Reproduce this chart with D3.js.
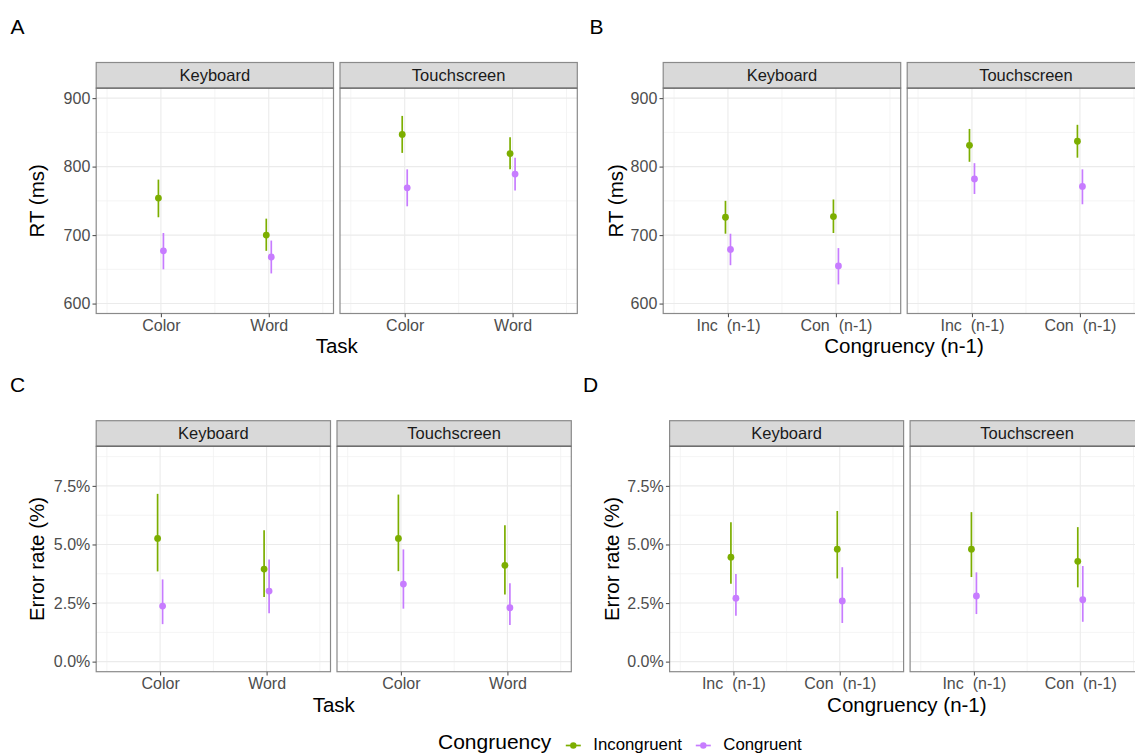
<!DOCTYPE html>
<html>
<head>
<meta charset="utf-8">
<script src="https://cdn.jsdelivr.net/npm/d3@7"></script>
<style>
  html, body { margin: 0; padding: 0; background: #fff; overflow: hidden; }
  svg { display: block; font-family: "Liberation Sans", Arial, Helvetica, sans-serif; }
</style>
</head>
<body>
<svg id="chart" width="1135" height="754"></svg>
<script>
// ---------------- DATA ----------------
const devices = ["Keyboard", "Touchscreen"];
const taskCats = ["Color", "Word"];
const seqCats = ["Inc  (n-1)", "Con  (n-1)"];
const congruency = ["Incongruent", "Congruent"];
const congColors = ["#7CAE00", "#C77CFF"];
const rtTicks = [600, 700, 800, 900];
const rtMinor = [650, 750, 850];
const errTicks = [0, 2.5, 5, 7.5];
const errMinor = [1.25, 3.75, 6.25, 8.75];

// [device, category, congruency, mean, lower, upper]
const rtTask = [
  ["Keyboard", "Color", "Incongruent", 754, 726, 781],
  ["Keyboard", "Color", "Congruent", 677, 650, 703],
  ["Keyboard", "Word", "Incongruent", 700, 677, 724],
  ["Keyboard", "Word", "Congruent", 668, 644, 692],
  ["Touchscreen", "Color", "Incongruent", 847, 820, 874],
  ["Touchscreen", "Color", "Congruent", 769, 742, 796],
  ["Touchscreen", "Word", "Incongruent", 819, 796, 843],
  ["Touchscreen", "Word", "Congruent", 789, 765, 813]
];
const rtSeq = [
  ["Keyboard", "Inc  (n-1)", "Incongruent", 726, 702, 750],
  ["Keyboard", "Inc  (n-1)", "Congruent", 679, 656, 702],
  ["Keyboard", "Con  (n-1)", "Incongruent", 727, 703, 752],
  ["Keyboard", "Con  (n-1)", "Congruent", 655, 628, 681],
  ["Touchscreen", "Inc  (n-1)", "Incongruent", 831, 807, 855],
  ["Touchscreen", "Inc  (n-1)", "Congruent", 782, 760, 805],
  ["Touchscreen", "Con  (n-1)", "Incongruent", 837, 813, 861],
  ["Touchscreen", "Con  (n-1)", "Congruent", 771, 745, 796]
];
const errTask = [
  ["Keyboard", "Color", "Incongruent", 5.26, 3.85, 7.16],
  ["Keyboard", "Color", "Congruent", 2.37, 1.60, 3.51],
  ["Keyboard", "Word", "Incongruent", 3.95, 2.76, 5.61],
  ["Keyboard", "Word", "Congruent", 3.01, 2.06, 4.36],
  ["Touchscreen", "Color", "Incongruent", 5.26, 3.86, 7.13],
  ["Touchscreen", "Color", "Congruent", 3.31, 2.26, 4.79],
  ["Touchscreen", "Word", "Incongruent", 4.11, 2.87, 5.82],
  ["Touchscreen", "Word", "Congruent", 2.30, 1.56, 3.34]
];
const errSeq = [
  ["Keyboard", "Inc  (n-1)", "Incongruent", 4.46, 3.32, 5.95],
  ["Keyboard", "Inc  (n-1)", "Congruent", 2.71, 1.96, 3.74],
  ["Keyboard", "Con  (n-1)", "Incongruent", 4.80, 3.55, 6.43],
  ["Keyboard", "Con  (n-1)", "Congruent", 2.59, 1.65, 4.03],
  ["Touchscreen", "Inc  (n-1)", "Incongruent", 4.80, 3.61, 6.38],
  ["Touchscreen", "Inc  (n-1)", "Congruent", 2.80, 2.03, 3.81],
  ["Touchscreen", "Con  (n-1)", "Incongruent", 4.28, 3.17, 5.74],
  ["Touchscreen", "Con  (n-1)", "Congruent", 2.64, 1.70, 4.08]
];

// ---------------- DRAW ----------------
const svg = d3.select("#chart");
const colorScale = d3.scaleOrdinal().domain(congruency).range(congColors);
const dodge = d3.scalePoint().domain(congruency).range([-2.5, 2.5]);

function drawSubplot(c) {
  const g = svg.append("g");
  g.append("text").attr("x", c.labelX).attr("y", c.labelY)
    .attr("font-size", 21).attr("fill", "#000").text(c.label);

  const y = d3.scaleLinear().domain(c.yDomain).range([c.bottom, c.top + c.stripH]);

  devices.forEach((dev, i) => {
    const px = c.x0 + i * (c.pw + c.gap);
    const x = d3.scalePoint().domain(c.cats).range([px, px + c.pw]).padding(0.6);
    const step = x.step();
    const pg = g.append("g");

    pg.append("rect").attr("x", px).attr("y", c.top + c.stripH)
      .attr("width", c.pw).attr("height", c.bottom - c.top - c.stripH).attr("fill", "#fff");

    // minor grid
    c.yMinor.forEach(v => {
      pg.append("line").attr("x1", px).attr("x2", px + c.pw)
        .attr("y1", y(v)).attr("y2", y(v))
        .attr("stroke", "#F1F1F1").attr("stroke-width", 0.8);
    });
    const xMinor = [x(c.cats[0]) - step / 2, (x(c.cats[0]) + x(c.cats[1])) / 2, x(c.cats[1]) + step / 2];
    xMinor.forEach(v => {
      pg.append("line").attr("x1", v).attr("x2", v)
        .attr("y1", c.top + c.stripH).attr("y2", c.bottom)
        .attr("stroke", "#F1F1F1").attr("stroke-width", 0.8);
    });
    // major grid
    c.yTicks.forEach(v => {
      pg.append("line").attr("x1", px).attr("x2", px + c.pw)
        .attr("y1", y(v)).attr("y2", y(v))
        .attr("stroke", "#EBEBEB").attr("stroke-width", 1.1);
    });
    c.cats.forEach(cat => {
      pg.append("line").attr("x1", x(cat)).attr("x2", x(cat))
        .attr("y1", c.top + c.stripH).attr("y2", c.bottom)
        .attr("stroke", "#EBEBEB").attr("stroke-width", 1.1);
    });

    // data
    const rows = c.data.filter(r => r[0] === dev);
    rows.forEach(r => {
      const cx = x(r[1]) + dodge(r[2]);
      pg.append("line").attr("x1", cx).attr("x2", cx)
        .attr("y1", y(r[4])).attr("y2", y(r[5]))
        .attr("stroke", colorScale(r[2])).attr("stroke-width", 1.7);
      pg.append("circle").attr("cx", cx).attr("cy", y(r[3])).attr("r", 3.4)
        .attr("fill", colorScale(r[2]));
    });

    // panel border
    pg.append("rect").attr("x", px).attr("y", c.top + c.stripH)
      .attr("width", c.pw).attr("height", c.bottom - c.top - c.stripH)
      .attr("fill", "none").attr("stroke", "#8a8a8a").attr("stroke-width", 1.2);

    // strip
    pg.append("rect").attr("x", px).attr("y", c.top)
      .attr("width", c.pw).attr("height", c.stripH)
      .attr("fill", "#D9D9D9").attr("stroke", "#8a8a8a").attr("stroke-width", 1.2);
    pg.append("line").attr("x1", px).attr("x2", px + c.pw)
      .attr("y1", c.top + c.stripH).attr("y2", c.top + c.stripH)
      .attr("stroke", "#6e6e6e").attr("stroke-width", 1.4);
    pg.append("text").attr("x", px + c.pw / 2).attr("y", c.top + c.stripH / 2)
      .attr("dy", "0.36em").attr("text-anchor", "middle")
      .attr("font-size", 16.5).attr("fill", "#1A1A1A").text(dev);

    // x axis
    const xa = pg.append("g").attr("transform", `translate(0,${c.bottom})`)
      .call(d3.axisBottom(x).tickSize(3.7).tickPadding(2.5));
    xa.select(".domain").remove();
    xa.selectAll(".tick line").attr("stroke", "#555").attr("stroke-width", 1.1);
    xa.selectAll(".tick text").attr("font-size", 16).attr("fill", "#4D4D4D")
      .attr("font-family", null).style("white-space", "pre");

    // y axis (first panel only)
    if (i === 0) {
      const ya = pg.append("g").attr("transform", `translate(${px},0)`)
        .call(d3.axisLeft(y).tickValues(c.yTicks).tickFormat(c.tickFmt).tickSize(3.7).tickPadding(2.2));
      ya.select(".domain").remove();
      ya.selectAll(".tick line").attr("stroke", "#555").attr("stroke-width", 1.1);
      ya.selectAll(".tick text").attr("font-size", 16).attr("fill", "#4D4D4D")
        .attr("font-family", null);
    }
  });

  // axis titles
  const totalRight = c.x0 + 2 * c.pw + c.gap;
  g.append("text").attr("x", (c.x0 + totalRight) / 2).attr("y", c.xTitleY)
    .attr("text-anchor", "middle").attr("font-size", 20.5).attr("fill", "#000")
    .text(c.xTitle);
  const yc = (c.top + c.stripH + c.bottom) / 2;
  g.append("text").attr("transform", `translate(${c.yTitleX},${yc}) rotate(-90)`)
    .attr("text-anchor", "middle").attr("font-size", 20.5).attr("fill", "#000")
    .text(c.yTitle);
}

const rtFmt = d3.format("d");
const errFmt = v => d3.format(".1f")(v) + "%";

drawSubplot({ label: "A", labelX: 10.5, labelY: 34, x0: 96.2, pw: 237.3, gap: 6.5,
  top: 62.5, stripH: 25.6, bottom: 313.5, yDomain: [585.5, 914.6], yTicks: rtTicks, yMinor: rtMinor,
  tickFmt: rtFmt, cats: taskCats, data: rtTask, xTitle: "Task", xTitleY: 353,
  yTitle: "RT (ms)", yTitleX: 44 });

drawSubplot({ label: "B", labelX: 589.5, labelY: 34, x0: 663.2, pw: 237.5, gap: 6.5,
  top: 62.5, stripH: 25.6, bottom: 313.5, yDomain: [585.5, 914.6], yTicks: rtTicks, yMinor: rtMinor,
  tickFmt: rtFmt, cats: seqCats, data: rtSeq, xTitle: "Congruency (n-1)", xTitleY: 353,
  yTitle: "RT (ms)", yTitleX: 623 });

drawSubplot({ label: "C", labelX: 10, labelY: 391.5, x0: 96.2, pw: 234.3, gap: 6.5,
  top: 420.7, stripH: 25.6, bottom: 671.7, yDomain: [-0.43, 9.19], yTicks: errTicks, yMinor: errMinor,
  tickFmt: errFmt, cats: taskCats, data: errTask, xTitle: "Task", xTitleY: 711.5,
  yTitle: "Error rate (%)", yTitleX: 44 });

drawSubplot({ label: "D", labelX: 583, labelY: 391.5, x0: 669.6, pw: 234, gap: 6.5,
  top: 420.7, stripH: 25.6, bottom: 671.7, yDomain: [-0.43, 9.19], yTicks: errTicks, yMinor: errMinor,
  tickFmt: errFmt, cats: seqCats, data: errSeq, xTitle: "Congruency (n-1)", xTitleY: 711.5,
  yTitle: "Error rate (%)", yTitleX: 618.5 });

// ---------------- LEGEND ----------------
const lg = svg.append("g");
lg.append("text").attr("x", 438).attr("y", 749.3).attr("font-size", 21).attr("fill", "#000")
  .text("Congruency");
const legendKeyX = [573.3, 703.3];
congruency.forEach((k, i) => {
  const cx = legendKeyX[i];
  lg.append("line").attr("x1", cx - 7.5).attr("x2", cx + 7.5).attr("y1", 745.5).attr("y2", 745.5)
    .attr("stroke", colorScale(k)).attr("stroke-width", 1.7);
  lg.append("circle").attr("cx", cx).attr("cy", 745.5).attr("r", 3.2).attr("fill", colorScale(k));
  lg.append("text").attr("x", cx + 20).attr("y", 750).attr("font-size", 16.8).attr("fill", "#000")
    .text(k);
});
</script>
</body>
</html>
